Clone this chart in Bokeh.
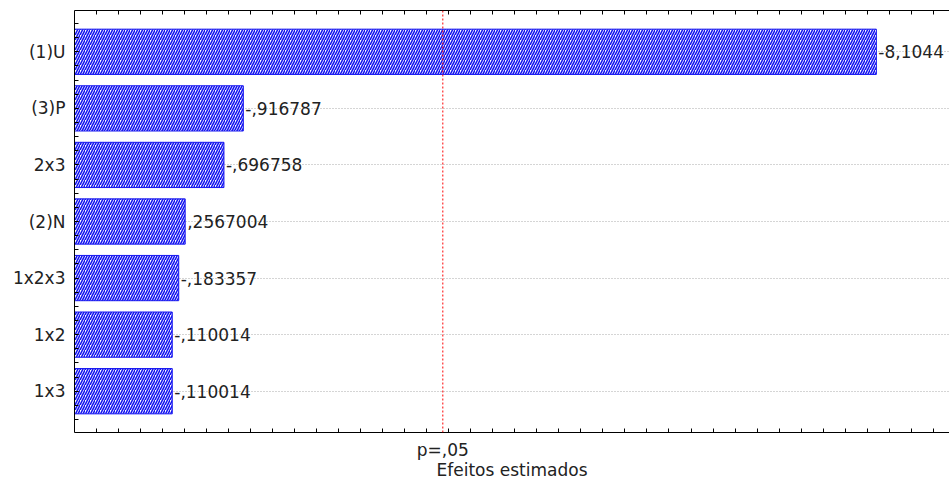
import numpy as np
from bokeh.plotting import figure
from bokeh.models import FixedTicker, LinearAxis, Range1d, Span, ColumnDataSource
from bokeh.core.properties import value
from bokeh.embed import file_html
from bokeh.resources import INLINE

# ---- data ----
categories = ["(1)U", "(3)P", "2x3", "(2)N", "1x2x3", "1x2", "1x3"]
effects = [-8.1044, -0.916787, -0.696758, 0.2567004, -0.183357, -0.110014, -0.110014]
value_labels = ["-8,1044", "-,916787", "-,696758", ",2567004", "-,183357", "-,110014", "-,110014"]
p_crit = 3.182          # t critical value, p = .05
p_label = "p=,05"
x_title = "Efeitos estimados"

# ---- layout constants ----
X_MIN, X_MAX = -1.0, 8.935
Y_MIN, Y_MAX = 0.27, 7.73
FONT = "DejaVu Sans"
FS = "17px"
TXT = "#222222"
BLUE = "#1414f0"

n = len(categories)
ypos = list(range(n, 0, -1))
lengths = [abs(e) for e in effects]

src = ColumnDataSource(dict(y=ypos, right=lengths, left=[X_MIN] * n, lab=value_labels))

p = figure(width=949, height=482, x_range=Range1d(X_MIN, X_MAX), y_range=Range1d(Y_MIN, Y_MAX),
           output_backend="svg", toolbar_location=None, title=None,
           min_border_left=74, min_border_right=0, min_border_top=10, min_border_bottom=47)
p.outline_line_color = None
p.background_fill_color = "white"
p.border_fill_color = "white"

# grid
p.xgrid.visible = False
p.ygrid.grid_line_color = "#aaaaaa"
p.ygrid.grid_line_dash = "1 2"
p.ygrid.grid_line_width = 1

# bars
p.hbar(y="y", left="left", right="right", height=0.8, source=src,
       fill_color="white", line_color=BLUE, line_width=1,
       hatch_pattern="/", hatch_color=BLUE, hatch_scale=5, hatch_weight=1.6)

# value labels
p.text(x="right", y="y", text="lab", source=src, x_offset=2,
       text_align="left", text_baseline="middle",
       text_font=value(FONT), text_font_size=FS, text_color=TXT)

# p = .05 line
p.add_layout(Span(location=p_crit, dimension="height", line_color="red",
                  line_dash="2 2", line_width=1))

minor_x = list(np.arange(-0.75, X_MAX, 0.25))
minor_y = list(np.arange(0.5, 7.51, 0.25))

# bottom axis
xa = p.xaxis[0]
xa.ticker = FixedTicker(ticks=[p_crit], minor_ticks=minor_x)
xa.major_label_overrides = {p_crit: p_label}
xa.major_tick_in = 0
xa.major_tick_out = 0
xa.minor_tick_in = 4
xa.minor_tick_out = 0
xa.major_label_standoff = 7
xa.major_label_text_font = FONT
xa.major_label_text_font_size = FS
xa.major_label_text_color = TXT
xa.axis_label = x_title
xa.axis_label_standoff = -3
xa.axis_label_text_font = FONT
xa.axis_label_text_font_size = FS
xa.axis_label_text_font_style = "normal"
xa.axis_label_text_color = TXT
xa.axis_line_color = "black"

# top axis
top = LinearAxis(ticker=FixedTicker(ticks=[], minor_ticks=minor_x),
                 major_label_text_font_size="0px", major_label_standoff=0,
                 axis_label_standoff=0,
                 major_tick_in=0, major_tick_out=0, minor_tick_in=4, minor_tick_out=0,
                 axis_line_color="black")
p.add_layout(top, "above")

# left axis
ya = p.yaxis[0]
ya.ticker = FixedTicker(ticks=ypos, minor_ticks=minor_y)
ya.major_label_overrides = {y: c for y, c in zip(ypos, categories)}
ya.major_tick_in = 4
ya.major_tick_out = 0
ya.minor_tick_in = 4
ya.minor_tick_out = 0
ya.major_label_standoff = 9
ya.major_label_text_font = FONT
ya.major_label_text_font_size = FS
ya.major_label_text_color = TXT
ya.axis_line_color = "black"

open("out.html", "w").write(file_html(p, INLINE))
